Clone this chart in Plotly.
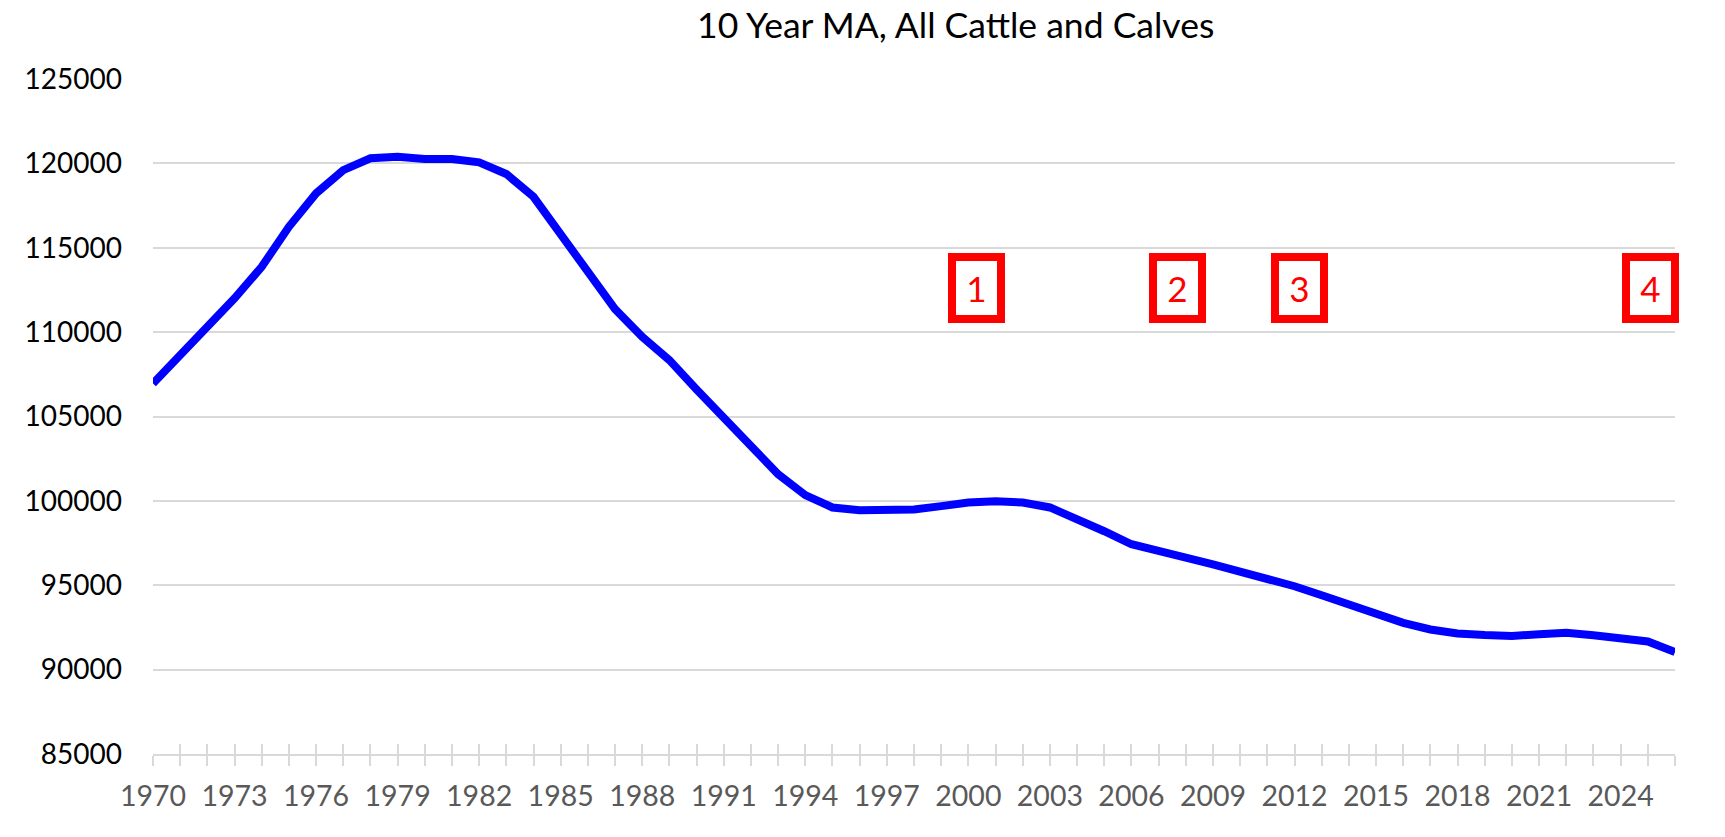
import plotly.graph_objects as go

# ---- data ----
years = list(range(1970, 2027))
ma_values = [
    106950, 108640, 110310, 112000, 113870, 116240, 118220, 119600, 120300, 120390,
    120260, 120260, 120060, 119370, 118020, 115750, 113480, 111360, 109720, 108340,
    106600, 104950, 103150, 101580, 100340, 99610, 99450, 99450, 99490, 99690,
    99900, 99980, 99900, 99610, 98960, 98200, 97430, 96980, 96640, 96230,
    95830, 95430, 94940, 94410, 93880, 93320, 92770, 92380, 92140, 92050,
    92000, 92090, 92190, 92040, 91900, 91670, 91040,
]
x_tick_labels = [str(y) if (y - 1970) % 3 == 0 else "" for y in years]
y_tick_values = [85000, 90000, 95000, 100000, 105000, 110000, 115000, 120000, 125000]
box_labels = ["1", "2", "3", "4"]

# ---- layout constants (positions / styles) ----
box_x = [2000.3, 2007.7, 2012.2, 2025.1]
box_y = 112600
FONT = "Lato"
GRID = "#D9D9D9"

fig = go.Figure()
fig.add_trace(go.Scatter(
    x=years, y=ma_values, mode="lines",
    line=dict(color="#0000FF", width=8),
    showlegend=False, hoverinfo="x+y",
))
# invisible companion trace to carry the upper half of the crossing tick marks
fig.add_trace(go.Scatter(
    x=years, y=ma_values, mode="lines", xaxis="x2",
    line=dict(color="rgba(0,0,0,0)", width=0),
    showlegend=False, hoverinfo="skip",
))

fig.update_layout(
    width=1725, height=837,
    margin=dict(l=153, r=50, t=79, b=83, pad=0),
    paper_bgcolor="white", plot_bgcolor="white",
    title=dict(
        text="10 Year MA, All Cattle and Calves",
        x=955.7 / 1725, xref="container", xanchor="center",
        y=1 - 26 / 837, yref="container", yanchor="middle",
        font=dict(family=FONT, size=35.5, color="#000000"),
    ),
    xaxis=dict(
        range=[1970, 2026],
        tickmode="array", tickvals=years, ticktext=x_tick_labels,
        ticks="outside", ticklen=10, tickwidth=1.5, tickcolor=GRID,
        showline=True, linecolor=GRID, linewidth=1.5,
        showgrid=False, zeroline=False,
        tickfont=dict(family=FONT, size=28.5, color="#595959"),
        ticklabelstandoff=6,
    ),
    xaxis2=dict(
        overlaying="x", anchor="y", side="bottom",
        range=[1970, 2026],
        tickmode="array", tickvals=years,
        ticks="inside", ticklen=10, tickwidth=1.5, tickcolor=GRID,
        showticklabels=False, showline=False, showgrid=False, zeroline=False,
    ),
    yaxis=dict(
        range=[85000, 125000],
        tickmode="array", tickvals=y_tick_values,
        tickformat="d",
        showgrid=True, gridcolor=GRID, gridwidth=1.5,
        showline=False, zeroline=False, ticks="",
        tickfont=dict(family=FONT, size=28, color="#000000"),
        ticklabelstandoff=30,
    ),
)

for lbl, bx in zip(box_labels, box_x):
    fig.add_annotation(
        x=bx, y=box_y, xref="x", yref="y",
        text=lbl, showarrow=False,
        width=41, height=54,
        bordercolor="#FF0000", borderwidth=8, borderpad=0,
        bgcolor="white",
        font=dict(family=FONT, size=35, color="#FF0000"),
    )

fig.write_html("out.html")
